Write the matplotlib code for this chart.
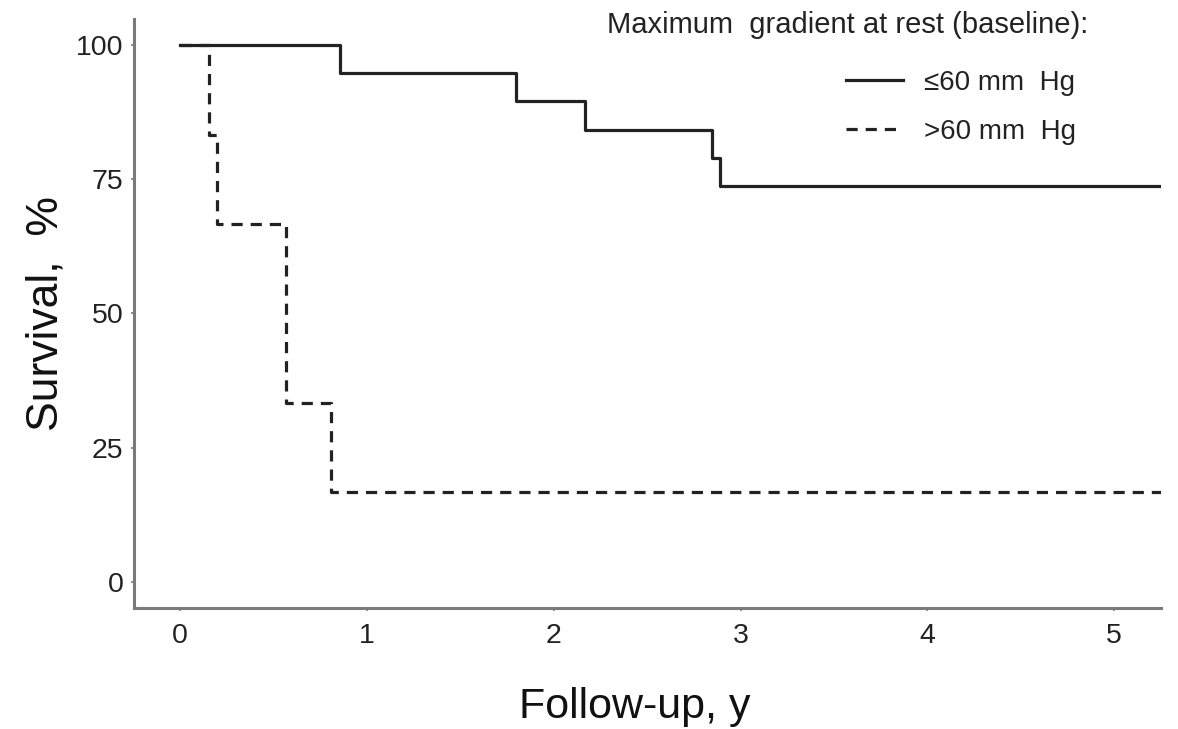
import matplotlib
matplotlib.use("Agg")
import matplotlib.pyplot as plt

# Data (Kaplan-Meier steps)
low_times = [0.0, 0.856, 1.80, 2.17, 2.845, 2.89, 5.25]
low_surv = [100.0, 94.7, 89.5, 84.2, 78.9, 73.7, 73.7]
high_times = [0.0, 0.155, 0.20, 0.57, 0.81, 5.25]
high_surv = [100.0, 83.3, 66.7, 33.3, 16.7, 16.7]

x_ticks = [0, 1, 2, 3, 4, 5]
y_ticks = [0, 25, 50, 75, 100]
labels = ["\u226460 mm  Hg", ">60 mm  Hg"]
legend_title = "Maximum  gradient at rest (baseline):"

plt.rcParams['font.family'] = ['Liberation Sans', 'DejaVu Sans']

W, H = 1178, 729
fig = plt.figure(figsize=(W / 100, H / 100), dpi=100)
ax = fig.add_axes([134 / W, 1 - 608 / H, 1027 / W, 589 / H])

ax.step(low_times, low_surv, where='post', color='#222222', lw=2.3, label=labels[0])
ax.step(high_times, high_surv, where='post', color='#222222', lw=2.3,
        dashes=(3.5, 2.5), label=labels[1])

ax.set_xlim(-0.246, 5.25)
ax.set_ylim(-4.84, 104.8)
ax.set_xticks(x_ticks)
ax.set_yticks(y_ticks)

for s in ['top', 'right']:
    ax.spines[s].set_visible(False)
for s in ['left', 'bottom']:
    ax.spines[s].set_color('#7a7a7a')
    ax.spines[s].set_linewidth(2.2)

ax.tick_params(axis='both', colors='#7a7a7a', length=2.5, width=1.2,
               labelsize=20.5, labelcolor='#222222')
ax.tick_params(axis='x', pad=8)
ax.tick_params(axis='y', pad=5)

ax.set_xlabel("Follow-up, y", fontsize=31, color='#111111')
ax.xaxis.set_label_coords(0.488, -0.134)
ax.set_ylabel("Survival,  %", fontsize=32, color='#111111')
ax.yaxis.set_label_coords(-0.066, 0.5)

fig.text(1088 / W, 1 - 25 / H, legend_title, ha='right', va='center',
         fontsize=21, color='#222222')

leg = ax.legend(loc='upper right',
                bbox_to_anchor=(1076 / W, 1 - 70 / H), bbox_transform=fig.transFigure,
                frameon=False, fontsize=20,
                handlelength=2.05, handletextpad=0.75, labelspacing=0.82,
                borderpad=0, borderaxespad=0)
for t in leg.get_texts():
    t.set_color('#222222')

fig.savefig("out.png", dpi=100)
